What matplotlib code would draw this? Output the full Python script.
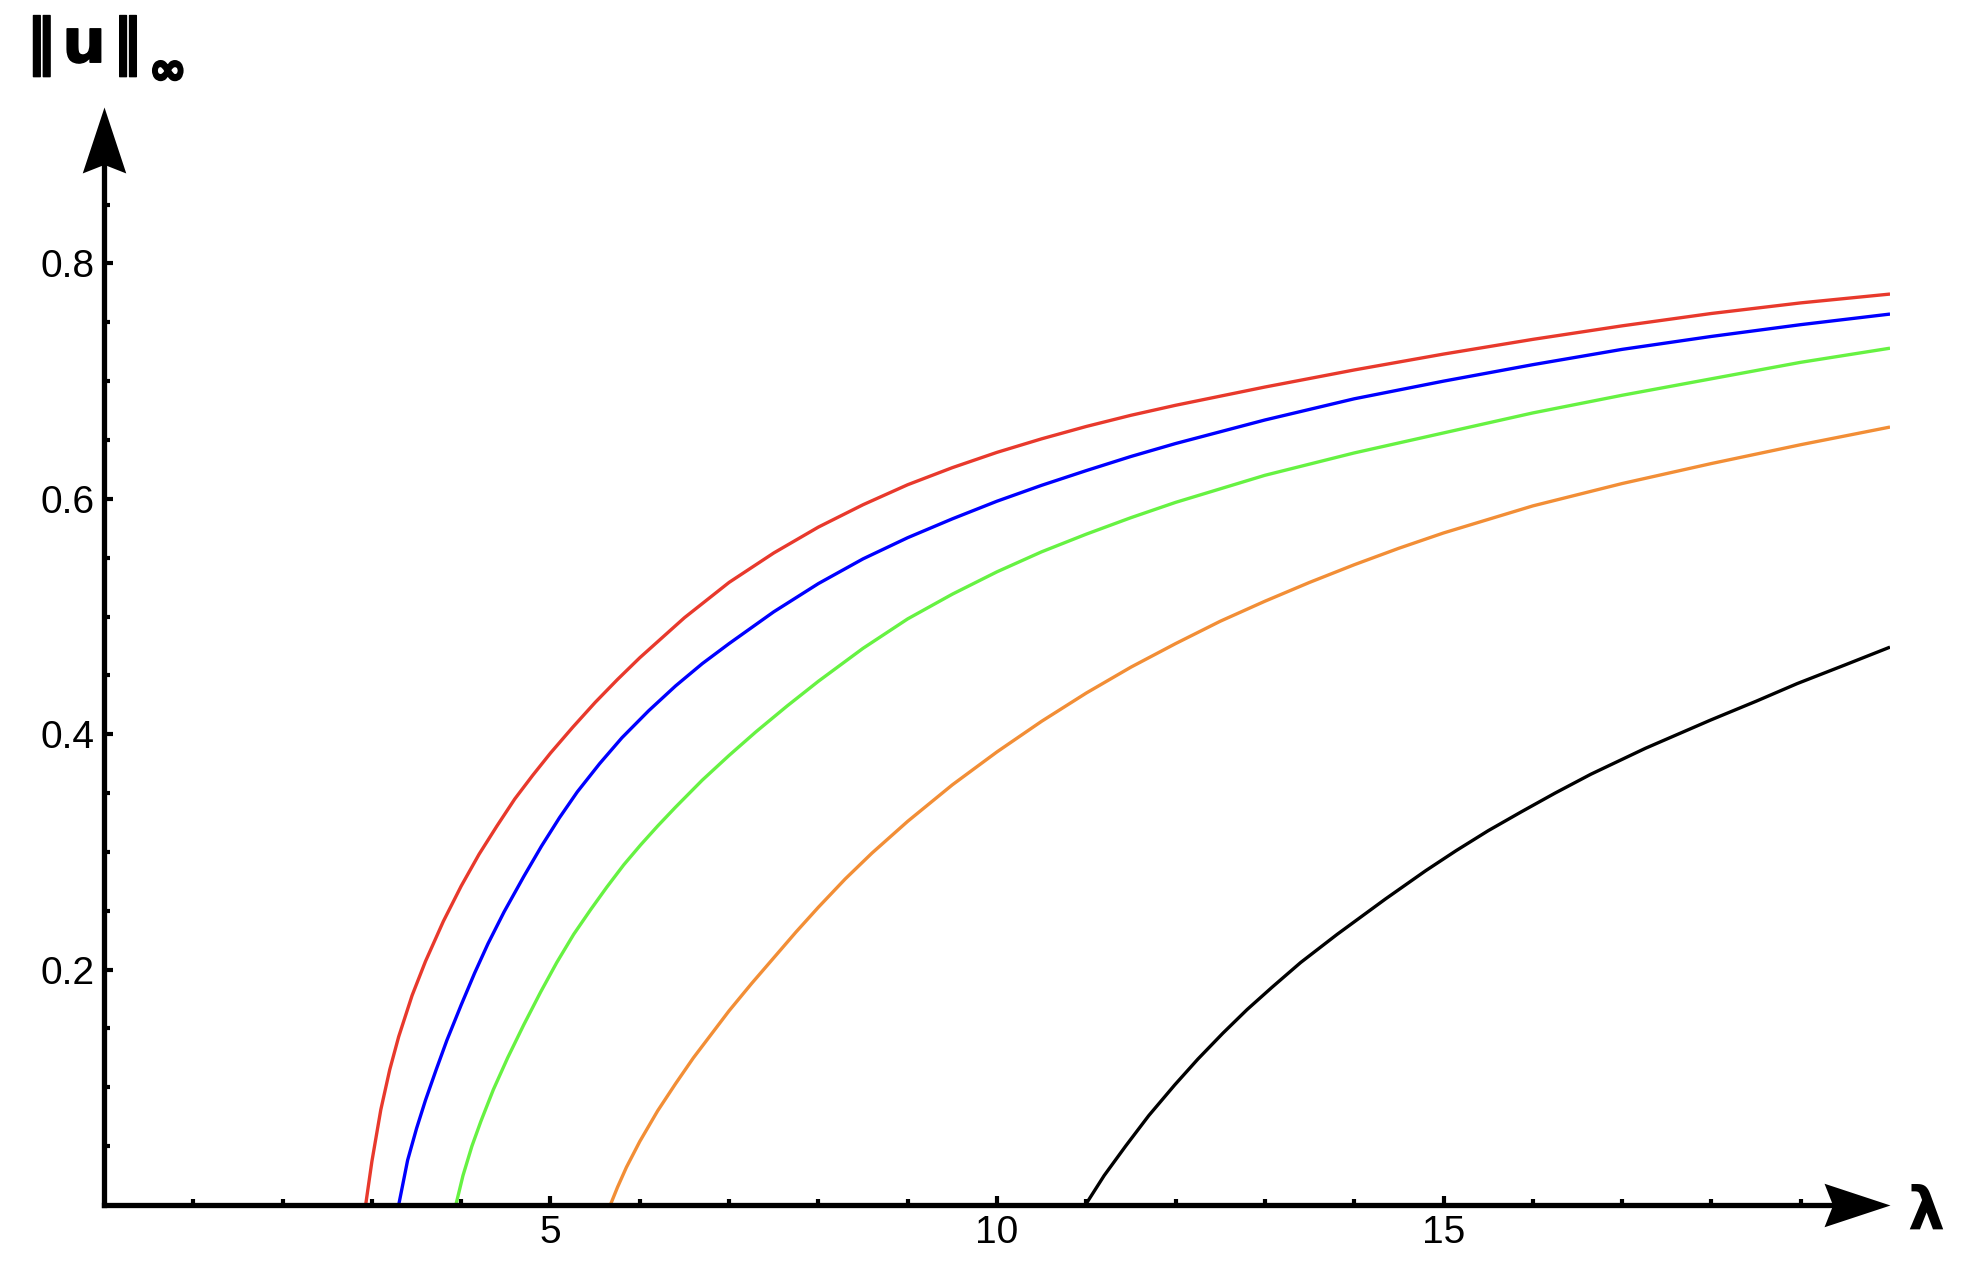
import matplotlib.pyplot as plt
import matplotlib.patheffects as pe
from matplotlib.path import Path
from matplotlib.ticker import FixedLocator, NullFormatter

# curves: lambda and sup-norm of u
lam_red = [2.93, 3.0, 3.1, 3.2, 3.3, 3.45, 3.6, 3.8, 4.0, 4.2, 4.4, 4.6, 4.8, 5.0, 5.25, 5.5, 5.75,
           6.0, 6.5, 7.0, 7.5, 8.0, 8.5, 9.0, 9.5, 10.0, 10.5, 11.0, 11.5, 12.0, 13.0, 14.0, 15.0,
           16.0, 17.0, 18.0, 19.0, 20.0]
u_red = [0.0, 0.037, 0.081, 0.115, 0.143, 0.178, 0.207, 0.241, 0.271, 0.298, 0.322, 0.345, 0.365,
         0.384, 0.406, 0.427, 0.4465, 0.465, 0.499, 0.529, 0.554, 0.576, 0.595, 0.612, 0.6265,
         0.6395, 0.651, 0.6615, 0.671, 0.6795, 0.695, 0.7095, 0.723, 0.7355, 0.747, 0.7575,
         0.7665, 0.774]

lam_blue = [3.30, 3.40, 3.50, 3.60, 3.72, 3.84, 4.0, 4.15, 4.3, 4.48, 4.7, 4.9, 5.1, 5.3, 5.55, 5.8,
            6.1, 6.4, 6.7, 7.0, 7.5, 8.0, 8.5, 9.0, 9.5, 10.0, 10.5, 11.0, 11.5, 12.0, 13.0, 14.0,
            15.0, 16.0, 17.0, 18.0, 19.0, 20.0]
u_blue = [0.0, 0.038, 0.065, 0.089, 0.115, 0.140, 0.170, 0.197, 0.222, 0.249, 0.279, 0.305, 0.329,
          0.351, 0.375, 0.397, 0.420, 0.441, 0.460, 0.477, 0.504, 0.528, 0.549, 0.567, 0.583, 0.598,
          0.6115, 0.624, 0.636, 0.647, 0.667, 0.685, 0.700, 0.714, 0.727, 0.738, 0.748, 0.757]

lam_green = [3.94, 4.02, 4.12, 4.22, 4.36, 4.52, 4.7, 4.89, 5.07, 5.26, 5.45, 5.63, 5.82, 6.01, 6.2,
             6.4, 6.7, 7.0, 7.3, 7.65, 8.0, 8.5, 9.0, 9.5, 10.0, 10.5, 11.0, 11.5, 12.0, 13.0, 14.0,
             15.0, 16.0, 17.0, 18.0, 19.0, 20.0]
u_green = [0.0, 0.025, 0.050, 0.071, 0.098, 0.125, 0.153, 0.181, 0.206, 0.230, 0.251, 0.270, 0.289,
           0.306, 0.322, 0.338, 0.361, 0.382, 0.402, 0.424, 0.445, 0.473, 0.498, 0.519, 0.538, 0.555,
           0.570, 0.584, 0.597, 0.620, 0.639, 0.656, 0.673, 0.688, 0.702, 0.716, 0.728]

lam_orange = [5.67, 5.75, 5.85, 6.0, 6.2, 6.4, 6.6, 6.8, 7.0, 7.25, 7.5, 7.75, 8.0, 8.3, 8.6, 9.0,
              9.5, 10.0, 10.5, 11.0, 11.5, 12.0, 12.5, 13.0, 13.5, 14.0, 14.5, 15.0, 16.0, 17.0,
              18.0, 19.0, 20.0]
u_orange = [0.0, 0.015, 0.032, 0.054, 0.080, 0.103, 0.125, 0.145, 0.165, 0.188, 0.210, 0.232, 0.253,
            0.277, 0.299, 0.326, 0.357, 0.385, 0.411, 0.435, 0.457, 0.477, 0.496, 0.513, 0.529,
            0.544, 0.558, 0.571, 0.594, 0.613, 0.630, 0.646, 0.661]

lam_black = [10.99, 11.2, 11.44, 11.7, 11.99, 12.25, 12.53, 12.8, 13.08, 13.4, 13.81, 14.35, 14.8,
             15.14, 15.5, 15.87, 16.25, 16.65, 17.26, 17.99, 18.5, 18.96, 19.5, 20.0]
u_black = [0.0, 0.025, 0.050, 0.076, 0.102, 0.124, 0.146, 0.166, 0.185, 0.206, 0.230, 0.260, 0.284,
           0.301, 0.318, 0.334, 0.350, 0.366, 0.388, 0.412, 0.428, 0.443, 0.459, 0.474]

curves = [(lam_red, u_red, '#e8392c'),
          (lam_blue, u_blue, '#0000ff'),
          (lam_green, u_green, '#66f242'),
          (lam_orange, u_orange, '#f28e36'),
          (lam_black, u_black, '#000000')]

x_major = [5, 10, 15]
x_minor = [1, 2, 3, 4, 6, 7, 8, 9, 11, 12, 13, 14, 16, 17, 18, 19]
y_major = [0.2, 0.4, 0.6, 0.8]
y_minor = [0.05, 0.1, 0.15, 0.25, 0.3, 0.35, 0.45, 0.5, 0.55, 0.65, 0.7, 0.75, 0.85]

plt.rcParams['font.family'] = ['Liberation Sans', 'DejaVu Sans']

fig = plt.figure(figsize=(19.77, 12.70), dpi=100)
ax = fig.add_axes([0.0526, 0.0512, 0.9034, 0.8646])

for lam, u, col in curves:
    ax.plot(lam, u, color=col, linewidth=2.4, solid_capstyle='butt', solid_joinstyle='round')

ax.set_xlim(0, 20)
ax.set_ylim(0, 0.933)

ax.spines['top'].set_visible(False)
ax.spines['right'].set_visible(False)
for side in ['left', 'bottom']:
    ax.spines[side].set_linewidth(3.8)
ax.spines['bottom'].set_bounds(0, 19.5)
ax.spines['left'].set_bounds(0, 0.9)

ax.xaxis.set_major_locator(FixedLocator(x_major))
ax.xaxis.set_minor_locator(FixedLocator(x_minor))
ax.yaxis.set_major_locator(FixedLocator(y_major))
ax.yaxis.set_minor_locator(FixedLocator(y_minor))
ax.set_xticklabels([str(v) for v in x_major])
ax.set_yticklabels([f'{v:.1f}' for v in y_major])
ax.xaxis.set_minor_formatter(NullFormatter())
ax.yaxis.set_minor_formatter(NullFormatter())

ax.tick_params(which='major', direction='in', length=6.3, width=3.0, labelsize=28)
ax.tick_params(which='minor', direction='in', length=4.1, width=3.0)
ax.tick_params(axis='x', which='major', pad=7)
ax.tick_params(axis='y', which='major', pad=7)

# notched arrow heads at the ends of the axes
arrow_right = Path([(0, 0), (-1, 0.33), (-0.87, 0), (-1, -0.33), (0, 0)],
                   [Path.MOVETO, Path.LINETO, Path.LINETO, Path.LINETO, Path.CLOSEPOLY])
arrow_up = Path([(0, 0), (-0.33, -1), (0, -0.87), (0.33, -1), (0, 0)],
                [Path.MOVETO, Path.LINETO, Path.LINETO, Path.LINETO, Path.CLOSEPOLY])
ax.plot([1], [0], transform=ax.transAxes, marker=arrow_right, markersize=95,
        color='black', markeredgewidth=0, clip_on=False)
ax.plot([0], [1], transform=ax.transAxes, marker=arrow_up, markersize=95,
        color='black', markeredgewidth=0, clip_on=False)

fig.text(0.013, 0.951, '‖\u200au\u200a‖', fontsize=44, fontweight='bold', va='baseline', ha='left',
         family=['DejaVu Sans'], path_effects=[pe.withStroke(linewidth=1.0, foreground='black')])
fig.text(0.0755, 0.934, '∞', fontsize=32, fontweight='bold', va='baseline', ha='left',
         family=['DejaVu Sans'], path_effects=[pe.withStroke(linewidth=2, foreground='black')])
fig.text(0.9646, 0.0323, 'λ', fontsize=42, fontweight='bold', va='baseline', ha='left',
         family=['DejaVu Sans'])

plt.savefig('out.png', dpi=100)
plt.close()
